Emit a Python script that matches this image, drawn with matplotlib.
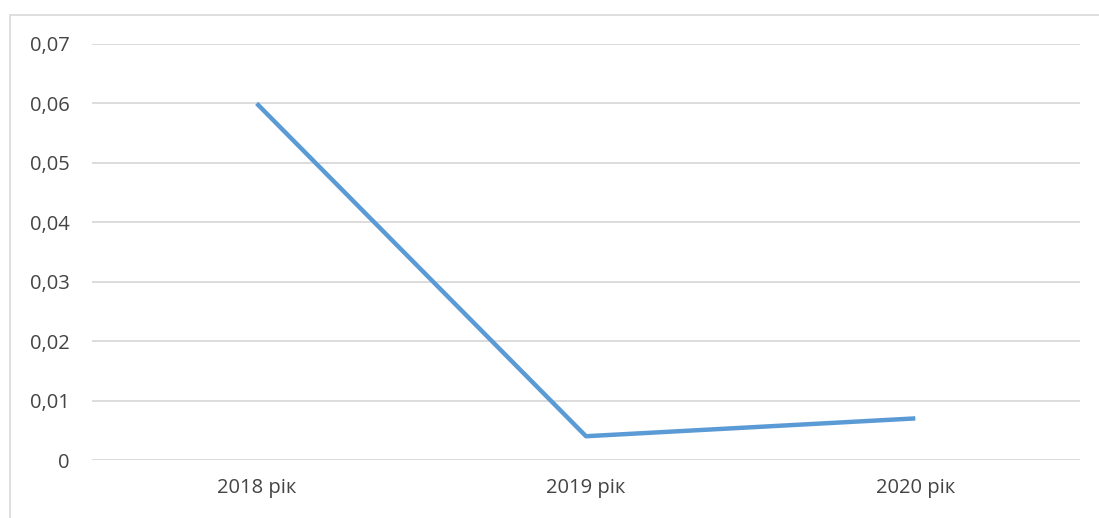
import matplotlib.pyplot as plt
from matplotlib.patches import Rectangle

plt.rcParams["font.family"] = ["Open Sans", "DejaVu Sans"]

years = ["2018 рік", "2019 рік", "2020 рік"]
values = [0.06, 0.004, 0.007]
y_ticks = [0, 0.01, 0.02, 0.03, 0.04, 0.05, 0.06, 0.07]
y_labels = ["0", "0,01", "0,02", "0,03", "0,04", "0,05", "0,06", "0,07"]

COLOR_LINE = "#5B9BD5"
COLOR_GRID = "#D9D9D9"
COLOR_TEXT = "#444444"

fig = plt.figure(figsize=(10.99, 5.18), dpi=100)
fig.patch.set_facecolor("white")

# рамка области диаграммы
fig.add_artist(Rectangle((10 / 1099, -0.01), 1.02, (518 - 15) / 518 + 0.01,
                         transform=fig.transFigure, fill=False,
                         edgecolor=COLOR_GRID, lw=1.2))

ax = fig.add_axes([92 / 1099, 58 / 518, 988 / 1099, 416 / 518])
x = range(len(years))
ax.plot(x, values, color=COLOR_LINE, lw=3.2, solid_capstyle="butt")

ax.set_xlim(-0.5, len(years) - 0.5)
ax.set_ylim(0, 0.07)
ax.set_yticks(y_ticks)
ax.set_yticklabels(y_labels)
ax.set_xticks(list(x))
ax.set_xticklabels(years)
ax.tick_params(axis="both", length=0, labelsize=14.5, labelcolor=COLOR_TEXT)
ax.tick_params(axis="y", pad=16)
ax.tick_params(axis="x", pad=13)

ax.grid(axis="y", color=COLOR_GRID, lw=1.3)
ax.set_axisbelow(True)
for s in ax.spines.values():
    s.set_visible(False)

fig.savefig("out.png", dpi=100)
